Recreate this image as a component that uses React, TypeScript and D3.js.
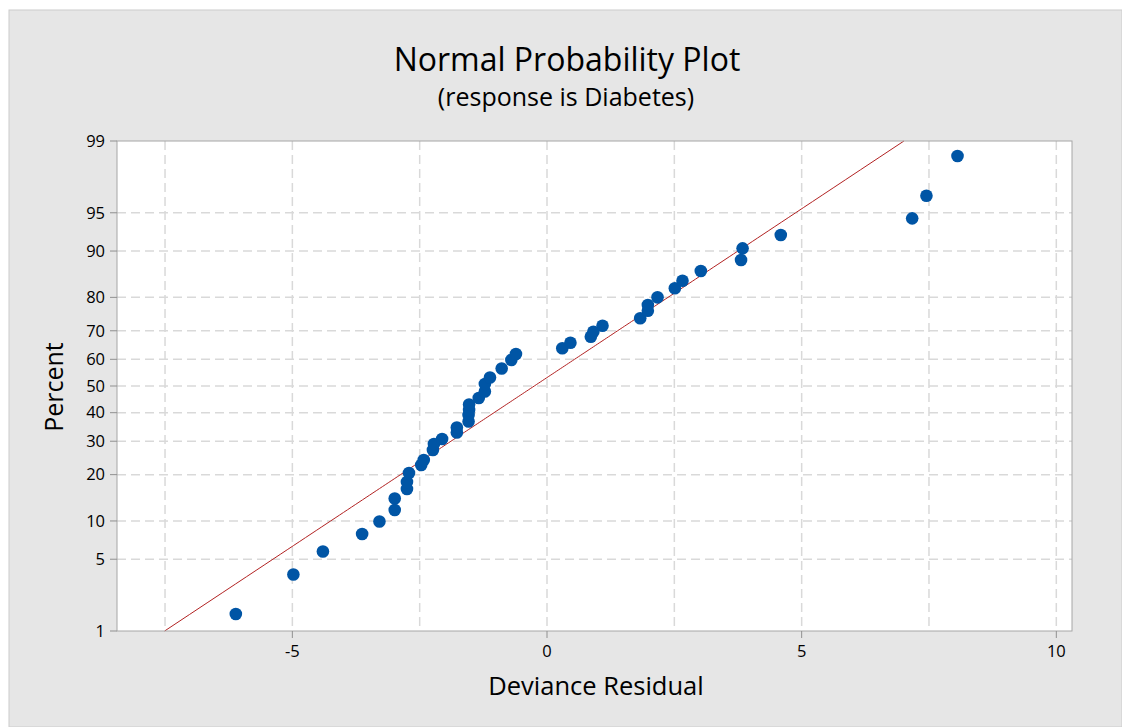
import React from "react";
import * as d3 from "d3";

// Data
const residuals = [
  -6.11, -4.98, -4.40, -3.63, -3.29, -2.99, -2.99, -2.75, -2.75, -2.71,
  -2.47, -2.42, -2.24, -2.22, -2.06, -1.77, -1.77, -1.54, -1.54, -1.53,
  -1.53, -1.34, -1.22, -1.22, -1.12, -0.89, -0.70, -0.61, 0.30, 0.46,
  0.86, 0.91, 1.09, 1.83, 1.98, 1.98, 2.17, 2.51, 2.66, 3.02,
  3.81, 3.84, 4.59, 7.17, 7.45, 8.06,
];
const percents = [
  1.52, 3.67, 5.81, 8.0, 9.91, 11.96, 14.27, 16.4, 18.1, 20.44,
  22.66, 24.11, 27.17, 29.09, 30.74, 32.94, 34.68, 36.8, 39.15, 40.99,
  43.03, 45.47, 47.92, 50.76, 53.22, 56.6, 59.75, 61.94, 63.98, 65.95,
  68.01, 69.69, 71.65, 73.98, 76.27, 77.91, 80.01, 82.32, 84.13, 86.26,
  88.42, 90.44, 92.42, 94.43, 96.46, 98.55,
];
const yTickValues = [1, 5, 10, 20, 30, 40, 50, 60, 70, 80, 90, 95, 99];
const xTickValues = [-5, 0, 5, 10];
const xGridValues = [-7.5, -5, -2.5, 0, 2.5, 5, 7.5, 10];
const fitMean = -0.25;
const fitSd = 3.12;

// inverse normal CDF (Acklam)
function probit(p: number): number {
  const a = [-3.969683028665376e1, 2.209460984245205e2, -2.759285104469687e2, 1.38357751867269e2, -3.066479806614716e1, 2.506628277459239];
  const b = [-5.447609879822406e1, 1.615858368580409e2, -1.556989798598866e2, 6.680131188771972e1, -1.328068155288572e1];
  const c = [-7.784894002430293e-3, -3.223964580411365e-1, -2.400758277161838, -2.549732539343734, 4.374664141464968, 2.938163982698783];
  const d = [7.784695709041462e-3, 3.224671290700398e-1, 2.445134137142996, 3.754408661907416];
  const pl = 0.02425;
  let q: number, r: number;
  if (p < pl) {
    q = Math.sqrt(-2 * Math.log(p));
    return (((((c[0] * q + c[1]) * q + c[2]) * q + c[3]) * q + c[4]) * q + c[5]) / ((((d[0] * q + d[1]) * q + d[2]) * q + d[3]) * q + 1);
  } else if (p <= 1 - pl) {
    q = p - 0.5;
    r = q * q;
    return ((((((a[0] * r + a[1]) * r + a[2]) * r + a[3]) * r + a[4]) * r + a[5]) * q) / (((((b[0] * r + b[1]) * r + b[2]) * r + b[3]) * r + b[4]) * r + 1);
  } else {
    q = Math.sqrt(-2 * Math.log(1 - p));
    return -(((((c[0] * q + c[1]) * q + c[2]) * q + c[3]) * q + c[4]) * q + c[5]) / ((((d[0] * q + d[1]) * q + d[2]) * q + d[3]) * q + 1);
  }
}

const W = 1122;
const H = 727;
const L = 117, R = 1072, T = 141, B = 631;
const FONT = "'Open Sans', 'Noto Sans', sans-serif";

export default function App() {
  const x = d3.scaleLinear().domain([-8.443, 10.308]).range([L, R]);
  const zScale = d3.scaleLinear().domain([probit(0.01), probit(0.99)]).range([B, T]);
  const y = (pct: number) => zScale(probit(pct / 100));

  const lineGen = d3.line<number>().x((p) => x(fitMean + fitSd * probit(p / 100))).y((p) => y(p));
  const fitPts = d3.range(1, 99.01, 0.5).filter((p) => x(fitMean + fitSd * probit(p / 100)) <= R);

  return (
    <svg width={W} height={H} style={{ position: "absolute", left: 0, top: 0 }} fontFamily={FONT}>
      <rect x={0} y={0} width={W} height={H} fill="#ffffff" />
      <rect x={9} y={10} width={W - 9} height={H - 10} fill="#e6e6e6" stroke="#cccccc" strokeWidth={1} />
      <text x={567} y={71} textAnchor="middle" fontSize={32} fill="#000">Normal Probability Plot</text>
      <text x={566} y={106} textAnchor="middle" fontSize={25} fill="#000">(response is Diabetes)</text>

      <rect x={L} y={T} width={R - L} height={B - T} fill="#ffffff" />
      <g stroke="#d9d9d9" strokeWidth={1.5} strokeDasharray="9,5">
        {xGridValues.map((v) => (
          <line key={"gx" + v} x1={x(v)} x2={x(v)} y1={T} y2={B} />
        ))}
        {yTickValues.filter((v) => v !== 1 && v !== 99).map((v) => (
          <line key={"gy" + v} x1={L} x2={R} y1={y(v)} y2={y(v)} />
        ))}
      </g>

      <path d={lineGen(fitPts) || ""} fill="none" stroke="#b22222" strokeWidth={1} />

      <g fill="#0055a5">
        {residuals.map((r, i) => (
          <circle key={i} cx={x(r)} cy={y(percents[i])} r={6.3} />
        ))}
      </g>

      <rect x={L} y={T} width={R - L} height={B - T} fill="none" stroke="#a6a6a6" strokeWidth={1} />

      <g stroke="#909090" strokeWidth={1}>
        {yTickValues.map((v) => (
          <line key={"ty" + v} x1={L - 7} x2={L} y1={y(v)} y2={y(v)} />
        ))}
        {xTickValues.map((v) => (
          <line key={"tx" + v} x1={x(v)} x2={x(v)} y1={B} y2={B + 7} />
        ))}
      </g>
      <g fontSize={16.5} fill="#000">
        {yTickValues.map((v) => (
          <text key={"ly" + v} x={L - 12} y={y(v)} dy="0.35em" textAnchor="end">{v}</text>
        ))}
        {xTickValues.map((v) => (
          <text key={"lx" + v} x={x(v)} y={B + 26} textAnchor="middle">{v}</text>
        ))}
      </g>
      <text x={596} y={695} textAnchor="middle" fontSize={25.5} fill="#000">Deviance Residual</text>
      <text transform="translate(63,387) rotate(-90)" textAnchor="middle" fontSize={25} fill="#000">Percent</text>
    </svg>
  );
}
